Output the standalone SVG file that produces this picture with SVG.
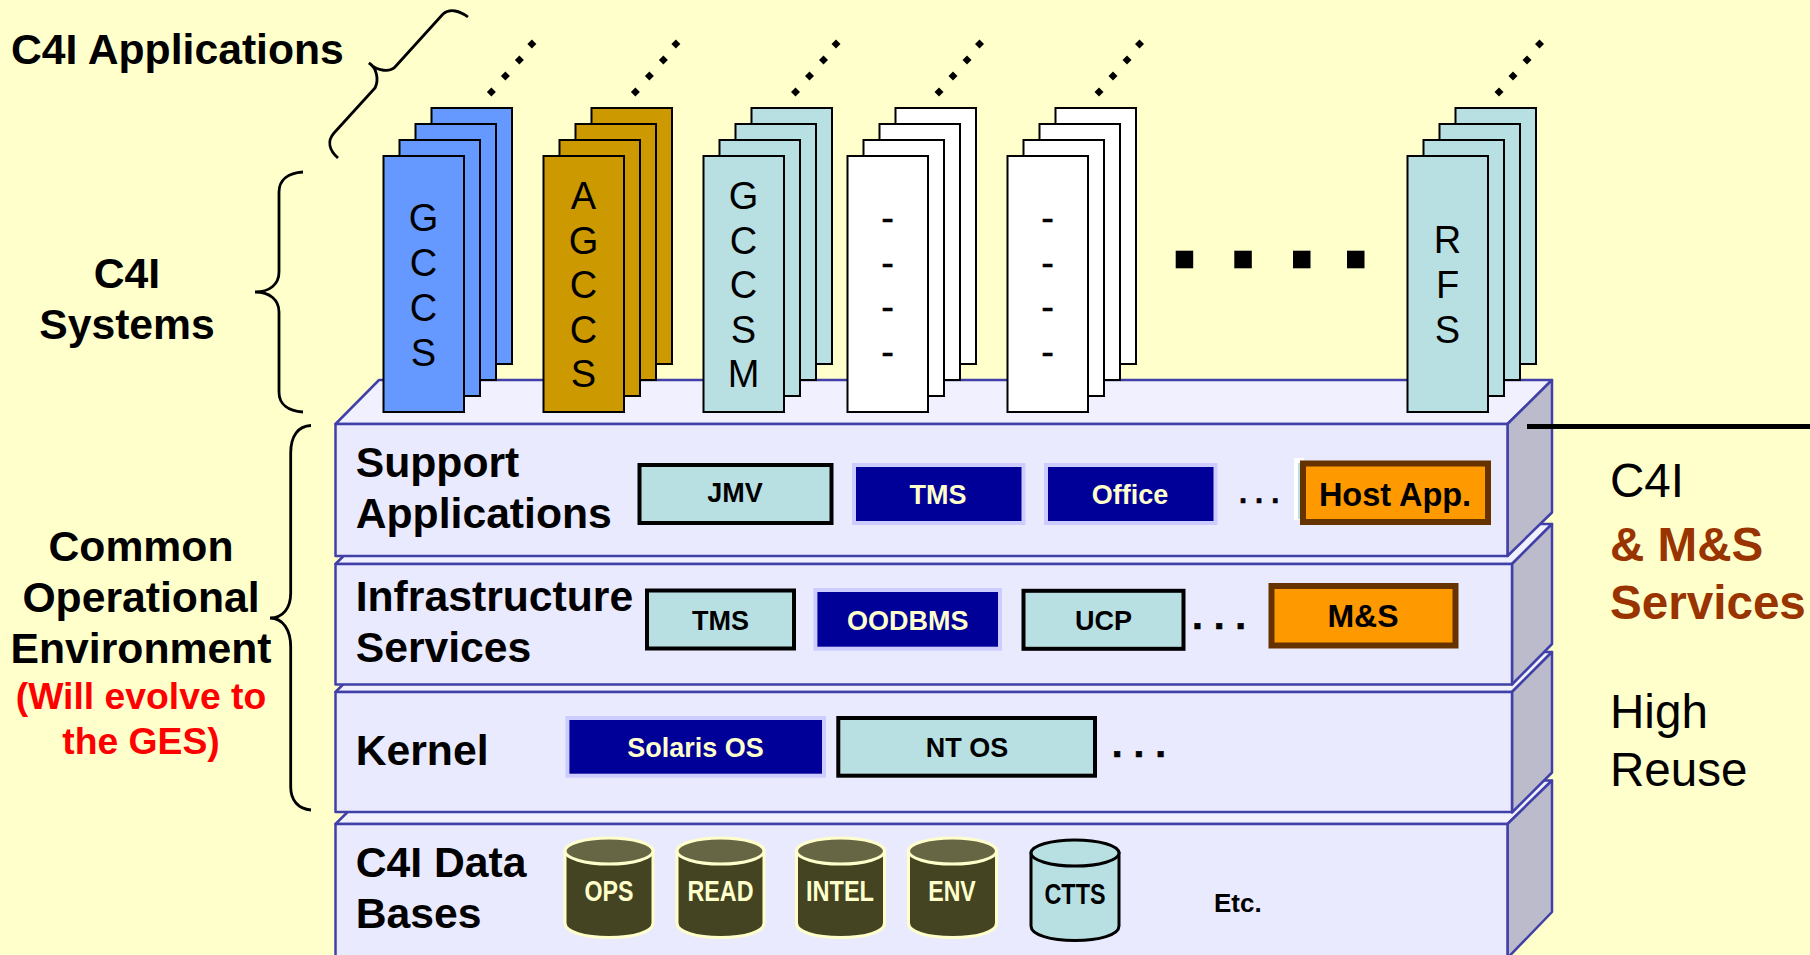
<svg xmlns="http://www.w3.org/2000/svg" width="1810" height="955" viewBox="0 0 1810 955">
<style>
text{font-family:"Liberation Sans",Arial,sans-serif;fill:#000}
.b{font-weight:bold}
.lbl{font-weight:bold;font-size:42.7px}
.m{text-anchor:middle}
.brace{fill:none;stroke:#000;stroke-width:2.8}
.front{fill:#EAEAFF;stroke:#4040A8;stroke-width:2.5;stroke-linejoin:round}
.top{fill:#F0F0FF;stroke:#4040A8;stroke-width:2.5;stroke-linejoin:round}
.side{fill:#BBBBCC;stroke:#4040A8;stroke-width:2.5;stroke-linejoin:round}
.sh{stroke:#000;stroke-width:2}
.blue{fill:#6699FF}.gold{fill:#CC9900}.teal{fill:#B8E0E3}.white{fill:#FFF}
.letters{font-size:38px;text-anchor:middle}
.dash{font-size:38px;text-anchor:middle;stroke:#000;stroke-width:.5}
.tb{fill:#B8E0E3;stroke:#000;stroke-width:4}
.nb{fill:#000099;stroke:#CCCCFF;stroke-width:4}
.ob{fill:#FF9900;stroke:#663300;stroke-width:6}
.t26{font-weight:bold;font-size:27px;text-anchor:middle}
.dbb{fill:#444422;stroke:#FFFFCC;stroke-width:3}
.dbt{fill:#666644;stroke:#FFFFCC;stroke-width:3}
.ctb{fill:#B8E0E3;stroke:#000;stroke-width:3}
.dbl{font-weight:bold;font-size:29px;text-anchor:middle}
.r46{font-size:47.6px}
.br{font-size:47.6px;font-weight:bold;fill:#993300}
.red{font-size:37.3px;font-weight:bold;fill:#FF0000;text-anchor:middle}
.el{font-weight:bold;stroke:#000;stroke-width:.6;stroke-linejoin:round}
</style>
<defs>
<g id="dots"><polygon points="0,-4.5 4.5,0 0,4.5 -4.5,0" transform="translate(0,48)"/><polygon points="0,-4.5 4.5,0 0,4.5 -4.5,0" transform="translate(14,32)"/><polygon points="0,-4.5 4.5,0 0,4.5 -4.5,0" transform="translate(28,16)"/><polygon points="0,-4.5 4.5,0 0,4.5 -4.5,0" transform="translate(40.5,0)"/></g>
<g id="sheets"><rect class="sh" x="48" y="-48" width="80.5" height="256"/><rect class="sh" x="32" y="-32" width="80.5" height="256"/><rect class="sh" x="16" y="-16" width="80.5" height="256"/><rect class="sh" x="0" y="0" width="80.5" height="256"/></g>
</defs>
<rect width="1810" height="955" fill="#FFFFCC"/>

<g id="layer-databases">
<polygon class="top" points="335.5,824 379.5,780.5 1552,780.5 1507.5,824"/>
<polygon class="side" points="1507.5,824 1552,780.5 1552,912 1507.5,958"/>
<rect class="front" x="335.5" y="824" width="1172" height="140"/>
<text class="lbl" x="355.7" y="877">C4I Data</text><text class="lbl" x="355.7" y="928">Bases</text>
<text class="b" x="1214" y="912" font-size="26">Etc.</text>
</g>
<g id="layer-kernel">
<polygon class="top" points="335.5,692 375.5,652 1552,652 1512,692"/>
<polygon class="side" points="1512,692 1552,652 1552,772.5 1512,812.5"/>
<rect class="front" x="335.5" y="692" width="1176.5" height="120"/>
<text class="lbl" x="355.7" y="765">Kernel</text>
<text class="el" x="1111.8" y="757" font-size="39">. . .</text>
</g>
<g id="layer-infrastructure">
<polygon class="top" points="335.5,564 375.5,524 1552,524 1512,564"/>
<polygon class="side" points="1512,564 1552,524 1552,644 1512,684.5"/>
<rect class="front" x="335.5" y="564" width="1176.5" height="120.5"/>
<text class="lbl" x="355.7" y="611">Infrastructure</text><text class="lbl" x="355.7" y="661.5">Services</text>
<text class="el" x="1192" y="629" font-size="39">. . .</text>
</g>
<g id="layer-support">
<polygon class="top" points="335.5,424 379,380 1552,380 1507.5,424"/>
<polygon class="side" points="1507.5,424 1552,380 1552,512.5 1507.5,556"/>
<rect class="front" x="335.5" y="424" width="1172" height="132"/>
<text class="lbl" x="355.7" y="477">Support</text><text class="lbl" x="355.7" y="528">Applications</text>
<text class="el" x="1239" y="503" font-size="29">. . .</text>
</g>

<g id="box-jmv"><rect class="tb" x="639.5" y="465" width="192" height="58"/><text class="t26" x="735" y="502">JMV</text></g>
<g id="box-tms1"><rect class="nb" x="854" y="465" width="169.5" height="58"/><text class="t26" x="938" y="504" style="fill:#FFFFCC">TMS</text></g>
<g id="box-office"><rect class="nb" x="1046" y="465" width="169.5" height="58"/><text class="t26" x="1130" y="504" style="fill:#FFFFCC">Office</text></g>
<g id="box-hostapp"><rect x="1294" y="458" width="10" height="62" fill="#FFF"/><rect x="1298" y="463" width="6" height="56" fill="#B8E0E3"/><rect class="ob" x="1303" y="463.5" width="185" height="58.5"/><text class="b m" x="1395" y="506" font-size="32.5">Host App.</text></g>
<g id="box-tms2"><rect class="tb" x="647" y="590.5" width="147" height="58"/><text class="t26" x="720.5" y="630">TMS</text></g>
<g id="box-oodbms"><rect class="nb" x="815.4" y="590" width="184.6" height="58.7"/><text class="t26" x="907.8" y="630" style="fill:#FFFFCC">OODBMS</text></g>
<g id="box-ucp"><rect class="tb" x="1023.5" y="590.8" width="160" height="58"/><text class="t26" x="1103.6" y="630">UCP</text></g>
<g id="box-ms"><rect class="ob" x="1271.5" y="586" width="184" height="59.5"/><text class="b m" x="1363" y="626.5" font-size="32">M&amp;S</text></g>
<g id="box-solaris"><rect class="nb" x="567.4" y="718" width="256.6" height="57.7"/><text class="t26" x="695.5" y="757" style="fill:#FFFFCC">Solaris OS</text></g>
<g id="box-ntos"><rect class="tb" x="838.3" y="718" width="256.7" height="57.7"/><text class="t26" x="967" y="757">NT OS</text></g>

<g id="db-ops"><path class="dbb" d="M565,851V923C565,932 585,937.5 609,937.5S653,932 653,923V851Z"/><ellipse class="dbt" cx="609" cy="851" rx="44" ry="13"/><text class="dbl" style="fill:#FFFFCC" x="609" y="900.5" textLength="49" lengthAdjust="spacingAndGlyphs">OPS</text></g>
<g id="db-read"><path class="dbb" d="M677,851V923C677,932 697,937.5 720.5,937.5S764,932 764,923V851Z"/><ellipse class="dbt" cx="720.5" cy="851" rx="43.5" ry="13"/><text class="dbl" style="fill:#FFFFCC" x="720.5" y="900.5" textLength="66" lengthAdjust="spacingAndGlyphs">READ</text></g>
<g id="db-intel"><path class="dbb" d="M796.5,851V923C796.5,932 816,937.5 840.5,937.5S884.5,932 884.5,923V851Z"/><ellipse class="dbt" cx="840.5" cy="851" rx="44" ry="13"/><text class="dbl" style="fill:#FFFFCC" x="840" y="900.5" textLength="68" lengthAdjust="spacingAndGlyphs">INTEL</text></g>
<g id="db-env"><path class="dbb" d="M908.5,851V923C908.5,932 928,937.5 952.5,937.5S996.5,932 996.5,923V851Z"/><ellipse class="dbt" cx="952.5" cy="851" rx="44" ry="13"/><text class="dbl" style="fill:#FFFFCC" x="952" y="900.5" textLength="47.5" lengthAdjust="spacingAndGlyphs">ENV</text></g>
<g id="db-ctts"><path class="ctb" d="M1031,853V926C1031,935 1051,940.5 1075,940.5S1119,935 1119,926V853Z"/><ellipse class="ctb" cx="1075" cy="853" rx="44" ry="13"/><text class="dbl" x="1075" y="903.5" textLength="61" lengthAdjust="spacingAndGlyphs">CTTS</text></g>

<g id="stack-gccs" class="blue"><use href="#sheets" x="383.5" y="156"/><text class="letters"><tspan x="423.5" y="231">G</tspan><tspan x="423.5" y="276">C</tspan><tspan x="423.5" y="320.5">C</tspan><tspan x="423.5" y="365.5">S</tspan></text></g>
<g id="stack-agccs" class="gold"><use href="#sheets" x="543.5" y="156"/><text class="letters"><tspan x="583.5" y="209">A</tspan><tspan x="583.5" y="254">G</tspan><tspan x="583.5" y="298">C</tspan><tspan x="583.5" y="343">C</tspan><tspan x="583.5" y="387">S</tspan></text></g>
<g id="stack-gccsm" class="teal"><use href="#sheets" x="703.5" y="156"/><text class="letters"><tspan x="743.5" y="209">G</tspan><tspan x="743.5" y="254">C</tspan><tspan x="743.5" y="298">C</tspan><tspan x="743.5" y="343">S</tspan><tspan x="743.5" y="387">M</tspan></text></g>
<g id="stack-blank1" class="white"><use href="#sheets" x="847.5" y="156"/><text class="dash"><tspan x="887.5" y="231">-</tspan><tspan x="887.5" y="276">-</tspan><tspan x="887.5" y="320">-</tspan><tspan x="887.5" y="365">-</tspan></text></g>
<g id="stack-blank2" class="white"><use href="#sheets" x="1007.5" y="156"/><text class="dash"><tspan x="1047.5" y="231">-</tspan><tspan x="1047.5" y="276">-</tspan><tspan x="1047.5" y="320">-</tspan><tspan x="1047.5" y="365">-</tspan></text></g>
<g id="stack-rfs" class="teal"><use href="#sheets" x="1407.5" y="156"/><text class="letters"><tspan x="1447.5" y="253">R</tspan><tspan x="1447.5" y="298">F</tspan><tspan x="1447.5" y="343">S</tspan></text></g>

<g id="more-stacks"><rect x="1175.7" y="250.7" width="17.5" height="17.6"/><rect x="1234.3" y="250.7" width="17.5" height="17.6"/><rect x="1293" y="250.7" width="17.5" height="17.6"/><rect x="1347" y="250.7" width="17.5" height="17.6"/></g>

<g id="connectors">
<use href="#dots" x="491.4" y="44"/><use href="#dots" x="635.4" y="44"/><use href="#dots" x="795.5" y="44"/><use href="#dots" x="939" y="44"/><use href="#dots" x="1099" y="44"/><use href="#dots" x="1499" y="44"/>
<path class="brace" d="M468,17C460,11 450,8 443,14L395,67C390,72 378,72 369,63C377,68 379,80 375,88L334,133C327,141 329,150 338,158"/>
<path class="brace" d="M303,172C288,173 279,180 279,192V272C279,284 270,292 255,292C270,292 279,300 279,312V392C279,404 288,411 303,412"/>
<path class="brace" d="M311,425.5C298,426 290.7,436 290.7,453V593C290.7,608 283,618 270,618C283,618 290.7,630 290.7,647V787C290.7,800 298,809 311,810"/>
<line x1="1527" y1="426.5" x2="1810" y2="426.5" stroke="#000" stroke-width="5"/>
</g>

<g id="labels">
<text class="lbl" x="11" y="64">C4I Applications</text>
<text class="lbl m" x="127" y="288">C4I</text><text class="lbl m" x="127" y="339">Systems</text>
<text class="lbl m" x="141" y="560.5">Common</text><text class="lbl m" x="141" y="612">Operational</text><text class="lbl m" x="141" y="663">Environment</text>
<text class="red" x="141" y="709">(Will evolve to</text><text class="red" x="141" y="754">the GES)</text>
<text class="r46" x="1610" y="497">C4I</text>
<text class="br" x="1610" y="561">&amp; M&amp;S</text><text class="br" x="1610" y="619">Services</text>
<text class="r46" x="1610" y="728">High</text><text class="r46" x="1610" y="786">Reuse</text>
</g>
</svg>
